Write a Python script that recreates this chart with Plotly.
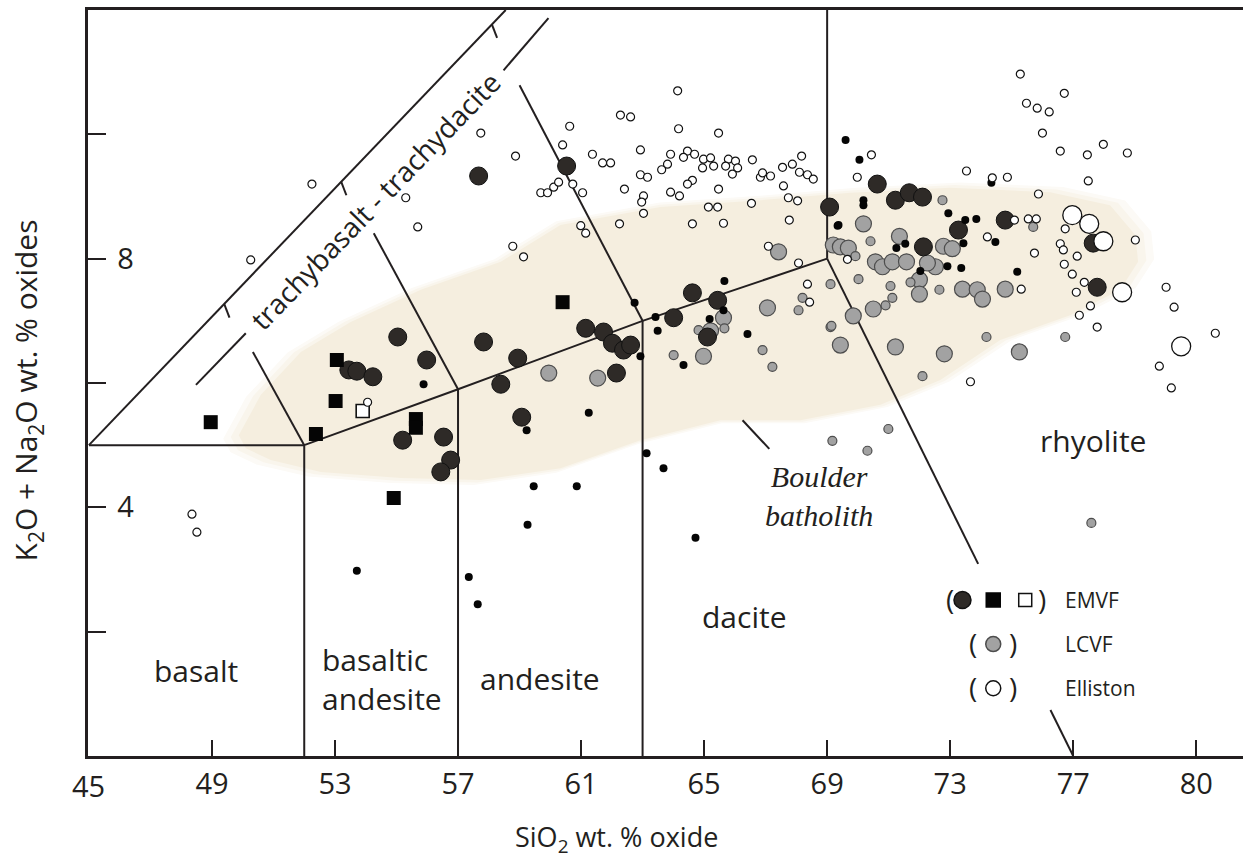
import plotly.graph_objects as go

# ---------------- sample data (SiO2 wt.%, Na2O+K2O wt.%) ----------------
# Elliston volcanics, small open symbols
elliston_sio2 = [50.26, 52.25, 55.30, 55.69, 58.87, 58.78, 59.13, 57.74, 60.63, 60.40,
                 61.37, 61.70, 61.96, 62.28, 62.61, 62.93, 62.93, 63.16, 62.41, 63.03,
                 62.97, 63.03, 62.25, 59.69, 59.91, 60.11, 60.27, 60.73, 61.05, 60.99,
                 61.15, 64.14, 64.17, 65.47, 63.91, 63.81, 63.62, 64.46, 64.33, 64.69,
                 64.98, 65.21, 64.95, 65.31, 65.79, 66.02, 65.70, 66.09, 65.92, 66.57,
                 66.83, 67.16, 66.90, 67.55, 67.87, 68.17, 68.10, 68.36, 68.55, 67.58,
                 67.74, 68.04, 67.77, 66.54, 65.47, 64.62, 64.46, 63.91, 64.20, 65.14,
                 65.44, 64.62, 65.63, 67.09, 68.07, 68.36, 68.43, 75.28, 76.71, 75.48,
                 75.83, 76.22, 76.00, 76.58, 77.46, 77.98, 78.76, 77.49, 75.87, 74.86,
                 74.37, 73.53, 70.44, 69.98, 75.09, 75.54, 75.80, 74.21, 76.74, 75.74,
                 76.58, 76.68, 77.13, 76.71, 76.97, 77.36, 77.10, 77.56, 77.20, 77.78,
                 79.02, 80.02, 80.28, 81.62, 75.31, 69.66, 79.80, 80.19, 73.66, 48.35,
                 48.51, 54.06]
elliston_alk = [7.98, 9.20, 8.98, 8.51, 9.65, 8.20, 8.03, 10.02, 10.13, 9.83,
                9.68, 9.54, 9.54, 10.31, 10.28, 9.75, 9.35, 9.31, 9.12, 9.01,
                8.91, 8.73, 8.56, 9.06, 9.06, 9.15, 9.23, 9.20, 9.06, 8.53,
                8.41, 10.70, 10.09, 10.02, 9.68, 9.52, 9.43, 9.73, 9.63, 9.68,
                9.60, 9.62, 9.46, 9.49, 9.60, 9.57, 9.49, 9.46, 9.36, 9.59,
                9.31, 9.33, 9.38, 9.47, 9.52, 9.65, 9.39, 9.35, 9.28, 9.17,
                8.98, 8.93, 8.62, 8.89, 9.12, 9.26, 9.20, 9.07, 9.01, 8.83,
                8.83, 8.56, 8.57, 8.20, 7.93, 7.59, 7.30, 10.97, 10.66, 10.50,
                10.42, 10.36, 10.02, 9.73, 9.67, 9.84, 9.70, 9.25, 9.04, 9.31,
                9.30, 9.41, 9.67, 9.31, 8.62, 8.64, 8.64, 8.35, 8.48, 8.09,
                8.24, 8.14, 8.04, 7.91, 7.75, 7.62, 7.46, 7.24, 7.09, 6.90,
                8.30, 7.54, 7.22, 6.80, 7.51, 7.99, 6.27, 5.92, 6.02, 3.89,
                3.60, 5.69]

# Elliston volcanics, large open symbols
elliston_big_sio2 = [76.97, 77.52, 77.98, 78.59, 80.51]
elliston_big_alk = [8.70, 8.56, 8.28, 7.46, 6.59]

# EMVF, large dark circles
emvf_sio2 = [57.67, 55.04, 55.98, 57.83, 58.94, 58.39, 59.07, 53.45, 53.71, 54.23,
             55.20, 56.53, 56.76, 56.44, 60.53, 64.62, 65.44, 64.01, 61.15, 61.73,
             62.02, 62.38, 62.61, 62.15, 65.11, 69.08, 70.63, 71.22, 71.67, 72.10,
             73.27, 72.13, 74.79, 77.65, 77.78]
emvf_alk = [9.33, 6.74, 6.37, 6.66, 6.40, 5.98, 5.45, 6.21, 6.19, 6.10,
            5.08, 5.13, 4.76, 4.57, 9.49, 7.45, 7.33, 7.05, 6.88, 6.82,
            6.64, 6.53, 6.61, 6.16, 6.74, 8.83, 9.20, 8.94, 9.06, 8.99,
            8.46, 8.19, 8.62, 8.25, 7.54]

# EMVF, small black dots
emvf_dot_sio2 = [62.74, 63.42, 63.49, 65.66, 65.63, 65.18, 66.41, 64.33, 61.25, 63.13,
                 63.68, 60.86, 69.34, 62.93, 69.60, 70.05, 70.18, 70.18, 69.37, 72.94,
                 73.49, 73.85, 73.43, 71.25, 71.54, 72.03, 72.91, 73.36, 74.47, 74.34,
                 75.18, 53.71, 57.35, 57.64, 59.46, 59.26, 55.88, 59.23, 64.72]
emvf_dot_alk = [7.29, 7.06, 6.84, 7.64, 7.17, 7.03, 6.79, 6.29, 5.52, 4.87,
                4.63, 4.34, 8.53, 6.43, 9.91, 9.59, 8.94, 8.86, 8.54, 8.73,
                8.62, 8.64, 8.25, 8.17, 8.24, 7.80, 7.88, 7.85, 8.27, 9.22,
                7.79, 2.98, 2.88, 2.44, 4.34, 3.72, 5.98, 5.24, 3.51]

# EMVF, filled and open squares
emvf_sq_sio2 = [48.96, 53.06, 53.02, 52.38, 55.63, 55.63, 54.91, 60.40]
emvf_sq_alk = [5.37, 6.37, 5.71, 5.18, 5.42, 5.28, 4.15, 7.30]
emvf_open_sq_sio2 = [53.90]
emvf_open_sq_alk = [5.55]

# LCVF, large grey circles
lcvf_sio2 = [67.42, 67.06, 65.63, 65.21, 64.98, 61.54, 59.95, 69.20, 70.18, 69.43,
             69.69, 71.35, 70.57, 70.80, 71.12, 71.58, 72.52, 72.26, 72.78, 73.07,
             72.00, 72.00, 73.40, 73.88, 74.05, 74.79, 69.85, 70.50, 69.43, 71.22,
             72.81, 75.25]
lcvf_alk = [8.11, 7.21, 7.05, 6.84, 6.43, 6.08, 6.16, 8.22, 8.56, 8.19,
            8.17, 8.36, 7.95, 7.87, 7.95, 7.95, 7.87, 7.93, 8.20, 8.16,
            7.66, 7.43, 7.51, 7.50, 7.35, 7.51, 7.08, 7.19, 6.61, 6.58,
            6.47, 6.50]

# LCVF, small grey circles
lcvf_small_sio2 = [64.01, 65.66, 66.90, 67.22, 68.20, 68.07, 69.11, 69.11, 69.17, 64.82,
                   72.75, 70.41, 69.92, 70.02, 71.06, 71.12, 70.90, 71.71, 72.65, 75.70,
                   76.74, 74.18, 69.14, 72.10, 70.99, 70.31, 77.59]
lcvf_small_alk = [6.45, 6.88, 6.53, 6.26, 7.37, 7.17, 7.59, 6.90, 5.07, 6.85,
                  8.94, 8.28, 8.04, 7.67, 7.56, 7.37, 7.25, 7.62, 7.50, 8.51,
                  6.74, 6.74, 6.92, 6.11, 5.26, 4.91, 3.75]

# Boulder batholith compositional field (outline)
batholith_sio2 = [49.87, 50.59, 51.89, 53.51, 55.79, 58.39, 60.33, 63.58, 66.83, 69.76,
                  73.00, 76.25, 78.20, 79.02, 79.11, 78.53, 76.90, 74.63, 72.68, 70.73,
                  68.13, 65.53, 62.93, 60.33, 57.74, 55.14, 52.54, 50.91, 50.10]
batholith_alk = [5.16, 5.81, 6.50, 6.98, 7.50, 7.95, 8.54, 8.83, 8.94, 9.06,
                 9.14, 9.07, 8.86, 8.38, 7.95, 7.50, 7.09, 6.69, 6.05, 5.65,
                 5.40, 5.40, 5.08, 4.63, 4.44, 4.47, 4.57, 4.76, 4.95]

# TAS classification boundaries (Le Bas et al.), segments separated by None
tas_sio2 = [45, 58.55, None,
            45, 52, None,
            52, 52, 57, 63, 69, None,
            57, 57, None,
            63, 63, None,
            69, 69, None,
            69, 73.91, None,
            76.26, 77, None,
            50.33, 52, None,
            54.26, 57, None,
            59.0, 63, None,
            48.48, 50.10, None,
            58.48, 59.94, None,
            49.4, 49.57, None,
            53.2, 53.37, None,
            58.1, 58.27, None,
            66.25, 67.12]
tas_alk = [5, 12, None,
           5, 5, None,
           0, 5, 5.9, 7, 8, None,
           0, 5.9, None,
           0, 7, None,
           8, 12, None,
           8, 3.09, None,
           0.74, 0, None,
           6.50, 5, None,
           8.41, 5.9, None,
           10.79, 7, None,
           5.97, 6.80, None,
           11.03, 11.87, None,
           7.27, 7.05, None,
           9.24, 9.02, None,
           11.77, 11.55, None,
           5.40, 4.94]

# axis ticks
x_tick_vals = [45, 49, 53, 57, 61, 65, 69, 73, 77, 81]
x_tick_text = ["45", "49", "53", "57", "61", "65", "69", "73", "77", "80"]
y_tick_vals = [4, 8]
y_tick_text = ["4", "8"]
y_minor_step = 2

# field names
field_names = ["basalt", "andesite", "dacite", "rhyolite"]
field_x = [48.48, 59.68, 66.31, 77.65]
field_y = [1.38, 1.25, 2.24, 5.07]

INK = "#231f20"
SANS = "Open Sans, Noto Sans, sans-serif"

fig = go.Figure()

# soft-edged batholith field: faint halo layers around the outline
cx = sum(batholith_sio2) / len(batholith_sio2)
cy = sum(batholith_alk) / len(batholith_alk)
for k, col in [(1.035, "#fcfaf6"), (1.018, "#f9f5ec"), (1.0, "#f5eedf")]:
    fig.add_trace(go.Scatter(
        x=[cx + (v - cx) * k for v in batholith_sio2] + [cx + (batholith_sio2[0] - cx) * k],
        y=[cy + (v - cy) * k for v in batholith_alk] + [cy + (batholith_alk[0] - cy) * k],
        mode="lines", fill="toself", fillcolor=col, line=dict(width=0),
        hoverinfo="skip", showlegend=False))

# classification lines
fig.add_trace(go.Scatter(x=tas_sio2, y=tas_alk, mode="lines",
                         line=dict(color=INK, width=2), hoverinfo="skip",
                         showlegend=False, connectgaps=False))

# samples
fig.add_trace(go.Scatter(x=lcvf_sio2, y=lcvf_alk, mode="markers", showlegend=False,
                         marker=dict(size=16, color="#a2a2a2", line=dict(color="#4d4d4d", width=1.2))))
fig.add_trace(go.Scatter(x=lcvf_small_sio2, y=lcvf_small_alk, mode="markers", showlegend=False,
                         marker=dict(size=9, color="#a2a2a2", line=dict(color="#4d4d4d", width=1.2))))
fig.add_trace(go.Scatter(x=emvf_sio2, y=emvf_alk, mode="markers", showlegend=False,
                         marker=dict(size=18, color="#2e2a27", line=dict(color="#111111", width=1))))
fig.add_trace(go.Scatter(x=emvf_dot_sio2, y=emvf_dot_alk, mode="markers", showlegend=False,
                         marker=dict(size=8, color="#050505", line=dict(width=0))))
fig.add_trace(go.Scatter(x=emvf_sq_sio2, y=emvf_sq_alk, mode="markers", showlegend=False,
                         marker=dict(size=14, symbol="square", color="#050505", line=dict(width=0))))
fig.add_trace(go.Scatter(x=emvf_open_sq_sio2, y=emvf_open_sq_alk, mode="markers", showlegend=False,
                         marker=dict(size=13, symbol="square", color="white", line=dict(color="#111111", width=1.6))))
fig.add_trace(go.Scatter(x=elliston_sio2, y=elliston_alk, mode="markers", showlegend=False,
                         marker=dict(size=8, color="white", line=dict(color="#111111", width=1.2))))
fig.add_trace(go.Scatter(x=elliston_big_sio2, y=elliston_big_alk, mode="markers", showlegend=False,
                         marker=dict(size=19, color="white", line=dict(color="#111111", width=1.3))))

# legend keys
legend_keys = [
    (73.40, 2.51, "circle", 17, "#2e2a27", "#111111"),
    (74.40, 2.51, "square", 14, "#050505", "#050505"),
    (75.44, 2.51, "square", 13, "white", "#111111"),
    (74.40, 1.80, "circle", 15, "#a2a2a2", "#4d4d4d"),
    (74.40, 1.09, "circle", 15, "white", "#111111"),
]
for kx, ky, sym, sz, fc, lc in legend_keys:
    fig.add_trace(go.Scatter(x=[kx], y=[ky], mode="markers", showlegend=False, hoverinfo="skip",
                             marker=dict(symbol=sym, size=sz, color=fc, line=dict(color=lc, width=1.5))))

ann = []
for name, fx, fy in zip(field_names, field_x, field_y):
    ann.append(dict(x=fx, y=fy, text=name, showarrow=False, xanchor="center", yanchor="middle",
                    font=dict(family=SANS, size=30, color=INK)))
ann.append(dict(x=52.50, y=1.24, text="basaltic<br>andesite", showarrow=False, xanchor="left",
                yanchor="middle", align="left", font=dict(family=SANS, size=30, color=INK)))
ann.append(dict(x=54.29, y=8.93, text="trachybasalt - trachydacite", showarrow=False, textangle=-46,
                xanchor="center", yanchor="middle", font=dict(family=SANS, size=28, color=INK)))
ann.append(dict(x=68.72, y=4.18, text="<i>Boulder<br>batholith</i>", showarrow=False,
                xanchor="center", yanchor="middle",
                font=dict(family="Liberation Serif, serif", size=30, color=INK)))
# legend text
for tx, ty, t in [(73.01, 2.53, "("), (75.99, 2.53, ")"),
                  (73.75, 1.82, "("), (75.05, 1.82, ")"),
                  (73.75, 1.11, "("), (75.05, 1.11, ")")]:
    ann.append(dict(x=tx, y=ty, text=t, showarrow=False, xanchor="center", yanchor="middle",
                    font=dict(family=SANS, size=28, color=INK)))
for ty, t in [(2.51, "EMVF"), (1.80, "LCVF"), (1.09, "Elliston")]:
    ann.append(dict(x=76.68, y=ty, text=t, showarrow=False, xanchor="left", yanchor="middle",
                    font=dict(family=SANS, size=21, color=INK)))
# first x tick label sits on the y-axis corner; drawn explicitly so it is not suppressed
ann.append(dict(x=x_tick_vals[0], xref="x", yref="paper", y=-0.0395, text=x_tick_text[0],
                showarrow=False, xanchor="center", yanchor="middle",
                font=dict(family=SANS, size=29, color=INK)))
# axis titles
ann.append(dict(xref="paper", yref="paper", x=0.458, y=-0.11, xanchor="center", yanchor="middle",
                text="SiO<sub>2</sub> wt. % oxide",
                showarrow=False, font=dict(family=SANS, size=27, color=INK)))
ann.append(dict(xref="paper", yref="paper", x=-0.052, y=0.49, xanchor="center", yanchor="middle",
                textangle=-90, text="K<sub>2</sub>O + Na<sub>2</sub>O wt. % oxides",
                showarrow=False, font=dict(family=SANS, size=30, color=INK)))

fig.update_layout(
    width=1243, height=858,
    margin=dict(l=88, r=0, t=10, b=102),
    paper_bgcolor="white", plot_bgcolor="white",
    showlegend=False,
    annotations=ann,
    xaxis=dict(range=[44.97, 82.52], showgrid=False, zeroline=False,
               showline=True, linewidth=3, linecolor=INK, mirror=True,
               ticks="inside", ticklen=16, tickwidth=2, tickcolor=INK,
               tickvals=x_tick_vals[1:], ticktext=x_tick_text[1:],
               tickfont=dict(family=SANS, size=29, color=INK)),
    yaxis=dict(range=[0, 12], showgrid=False, zeroline=False,
               showline=True, linewidth=3, linecolor=INK,
               ticks="inside", ticklen=18, tickwidth=2, tickcolor=INK,
               tickvals=y_tick_vals, ticktext=y_tick_text,
               minor=dict(tickmode="linear", tick0=0, dtick=y_minor_step, ticks="inside",
                          ticklen=18, tickwidth=2, tickcolor=INK, showgrid=False),
               ticklabelposition="inside", ticklabelstandoff=14,
               tickfont=dict(family=SANS, size=29, color=INK)),
)

fig.write_html("out.html")
